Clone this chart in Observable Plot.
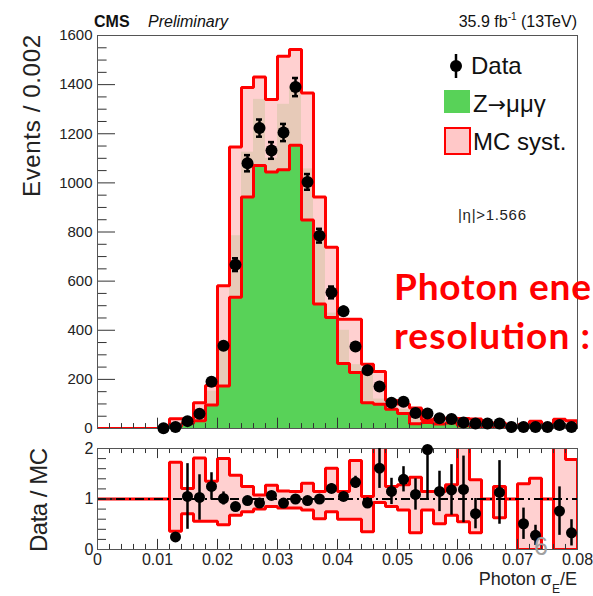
<!DOCTYPE html>
<html><head><meta charset="utf-8">
<script src="https://cdn.jsdelivr.net/npm/d3@7"></script>
<script src="https://cdn.jsdelivr.net/npm/@observablehq/plot@0.6"></script>
<style>
html,body{margin:0;padding:0;background:#fff;}
#wrap{position:relative;width:593px;height:596px;overflow:hidden;font-family:"Liberation Sans",Arial,sans-serif;}
#wrap svg{position:absolute;left:0;}
</style></head><body><div id="wrap"></div>
<script>
// ---- data ----
const binEdges = [0,0.002,0.004,0.006,0.008,0.01,0.012,0.014,0.016,0.018,0.02,0.022,0.024,0.026,0.028,0.03,0.032,0.034,0.036,0.038,0.04,0.042,0.044,0.046,0.048,0.05,0.052,0.054,0.056,0.058,0.06,0.062,0.064,0.066,0.068,0.07,0.072,0.074,0.076,0.078,0.08];
const dataCounts = [0,0,0,0,0,1,6,30,60,190,337,667,1080,1223,1132,1205,1390,1004,785,554,477,334,237,171,105,109,63,61,42,39,24,20,20,20,6,6,6,6,14,6];
const dataErr = [0,0,0,0,0,1,2.5,5.5,8,14,18,26,33,35,34,35,37,32,28,24,22,18,15,13,10,10,8,8,6.5,6,5,4.5,4.5,4.5,2.5,2.5,2.5,2.5,4,2.5];
const mcNominal = [0,0,0,0,0,0,23,30,58,152,333,785,1125,1340,1100,1320,1390,1057,785,470,400,260,230,120,92,78,58,31,36,33,20,28,0,18,0,12,21,0,18,18];
const mcDown = [0,0,0,0,0,0,8,20,32,96,173,534,942,1071,1044,1053,1153,849,507,452,265,228,105,99,78,61,19,24,18,22,11,9,0,11,0,0,0,0,0,0];
const mcUp = [0,0,0,0,0,0,40,40,105,175,581,1146,1388,1431,1339,1516,1543,1366,942,738,445,445,262,232,114,100,83,36,41,42,41,39,0,22,0,15,30,0,38,32];
const ratioValues = [null,null,null,null,null,null,0.25,1.05,1.03,1.25,1.01,0.85,0.97,0.92,1.07,0.92,1.0,0.97,1.0,1.21,1.05,1.33,0.92,1.61,1.15,1.39,1.09,1.98,1.15,1.18,1.19,0.71,null,1.13,null,0.51,0.28,null,0.76,0.33];
const ratioErr = [0,0,0,0,0,0,0.08,0.65,0.45,0.27,0.13,0.05,0.04,0.04,0.04,0.04,0.04,0.04,0.05,0.09,0.07,0.12,0.1,0.4,0.26,0.25,0.31,1.0,0.4,0.5,0.66,0.3,0,0.63,0,0.31,0.2,0,0.48,0.26];
const ratioDown = [1,1,1,1,1,1,0.36,0.71,0.56,0.56,0.49,0.68,0.75,0.8,0.85,0.82,0.82,0.78,0.61,0.75,0.6,0.6,0.35,0.93,0.85,0.78,0.33,0.78,0.51,0.68,0.55,0.33,1,0.63,1,0,0,1,0,0];
const ratioUp = [1,1,1,1,1,1,1.73,1.21,1.81,1.35,1.8,1.47,1.25,1.08,1.27,1.16,1.15,1.31,1.15,1.61,1.15,1.76,1.05,2.1,1.25,1.28,1.43,1.15,1.15,1.28,2.03,1.38,1,1.25,1,1.3,1.41,1,2.1,1.78];
const mainYTicks = [0,200,400,600,800,1000,1200,1400,1600];
const mainYLabels = ["0","200","400","600","800","1000","1200","1400","1600"];
const ratioYTicks = [0,1,2];
const ratioYLabels = ["0","1","2"];
const xTickValues = [0,0.01,0.02,0.03,0.04,0.05,0.06,0.07,0.08];
const xTickLabels = ["0","0.01","0.02","0.03","0.04","0.05","0.06","0.07","0.08"];

// ---- styling ----
const W = 593;
const RED = "#ff0000", GREEN = "#58d258", PINK = "#ffc8c8", AX = "#333";
const font = {fontFamily: "'Liberation Sans', Arial, sans-serif", background: "transparent", color: "#222", overflow: "visible"};

const bins = dataCounts.map((v, i) => ({
  x1: binEdges[i], x2: binEdges[i + 1], xc: (binEdges[i] + binEdges[i + 1]) / 2,
  data: v, err: dataErr[i], nom: mcNominal[i], lo: mcDown[i], hi: mcUp[i],
  r: ratioValues[i], rErr: ratioErr[i], rLo: ratioDown[i], rHi: ratioUp[i]
}));

function outline(loKey, hiKey) {
  const pts = [];
  bins.forEach(b => { pts.push({x: b.x1, y: b[hiKey]}, {x: b.x2, y: b[hiKey]}); });
  bins.slice().reverse().forEach(b => { pts.push({x: b.x2, y: b[loKey]}, {x: b.x1, y: b[loKey]}); });
  pts.push(pts[0]);
  return pts;
}

const majorSet = new Set(xTickValues.map(v => v.toFixed(3)));
const xMinor = binEdges.filter(v => !majorSet.has(v.toFixed(3)));
const yMinorMain = d3.range(0, 1601, 50).filter(v => v % 200 !== 0);
const yMinorRatio = d3.range(0.2, 2, 0.2).filter(v => Math.abs(v - 1) > 1e-6);

// ---- main panel ----
const mainSvg = Plot.plot({
  width: W, height: 440,
  marginLeft: 97, marginRight: 16, marginTop: 35, marginBottom: 12,
  x: {domain: [0, 0.08], axis: null},
  y: {domain: [0, 1600]},
  style: font,
  marks: [
    Plot.rect(bins, {x1: "x1", x2: "x2", y1: 0, y2: "nom", fill: GREEN}),
    Plot.rect(bins.filter(b => b.hi > b.lo), {x1: "x1", x2: "x2", y1: "lo", y2: "hi", fill: PINK, fillOpacity: 0.86}),
    Plot.line(outline("lo", "hi"), {x: "x", y: "y", stroke: RED, strokeWidth: 3, strokeLinejoin: "miter", clip: true}),
    Plot.ruleY(yMinorMain, {y: d => d, x1: 0, x2: 0.0016, stroke: AX, strokeWidth: 1}),
    Plot.ruleY(mainYTicks, {y: d => d, x1: 0, x2: 0.003, stroke: AX, strokeWidth: 1}),
    Plot.ruleX(xMinor, {x: d => d, y1: 0, y2: 20, stroke: AX, strokeWidth: 1}),
    Plot.ruleX(xTickValues, {x: d => d, y1: 0, y2: 42, stroke: AX, strokeWidth: 1}),
    Plot.frame({stroke: "#555", strokeWidth: 1}),
    Plot.axisY({ticks: mainYTicks, tickFormat: d => mainYLabels[mainYTicks.indexOf(d)], tickSize: 0, tickPadding: 5, fontSize: 15, label: null}),
    Plot.ruleX(bins.filter(b => b.data > 0), {x: "xc", y1: b => b.data - b.err, y2: b => b.data + b.err, stroke: "black", strokeWidth: 2.5}),
    Plot.ruleY(bins.filter(b => b.err >= 24), {y: b => b.data + b.err, x1: b => b.xc - 0.0005, x2: b => b.xc + 0.0005, stroke: "black", strokeWidth: 2.5}),
    Plot.ruleY(bins.filter(b => b.err >= 24), {y: b => b.data - b.err, x1: b => b.xc - 0.0005, x2: b => b.xc + 0.0005, stroke: "black", strokeWidth: 2.5}),
    Plot.dot(bins.filter(b => b.data > 0), {x: "xc", y: "data", r: 6, fill: "black", stroke: "none"})
  ]
});
mainSvg.style.top = "0px";

// ---- ratio panel ----
const rBins = bins.filter(b => b.r != null);
const ratioSvg = Plot.plot({
  width: W, height: 156,
  marginLeft: 97, marginRight: 16, marginTop: 8, marginBottom: 47,
  x: {domain: [0, 0.08]},
  y: {domain: [0, 2]},
  style: font,
  marks: [
    Plot.rect(bins.filter(b => b.rHi > b.rLo), {x1: "x1", x2: "x2", y1: "rLo", y2: b => Math.min(b.rHi, 2), fill: PINK, fillOpacity: 0.86}),
    Plot.line(outline("rLo", "rHi"), {x: "x", y: "y", stroke: RED, strokeWidth: 3, strokeLinejoin: "miter", clip: true}),
    Plot.ruleY([1], {stroke: "black", strokeWidth: 2, strokeDasharray: "9,4,2,4"}),
    Plot.ruleY(yMinorRatio, {y: d => d, x1: 0, x2: 0.0015, stroke: AX, strokeWidth: 1}),
    Plot.ruleY(ratioYTicks, {y: d => d, x1: 0, x2: 0.003, stroke: AX, strokeWidth: 1}),
    Plot.ruleX(xMinor, {x: d => d, y1: 0, y2: 0.1, stroke: AX, strokeWidth: 1}),
    Plot.ruleX(xTickValues, {x: d => d, y1: 0, y2: 0.2, stroke: AX, strokeWidth: 1}),
    Plot.ruleX(xMinor, {x: d => d, y1: 2, y2: 1.9, stroke: AX, strokeWidth: 1}),
    Plot.ruleX(xTickValues, {x: d => d, y1: 2, y2: 1.8, stroke: AX, strokeWidth: 1}),
    Plot.frame({stroke: "#555", strokeWidth: 1}),
    Plot.axisY({ticks: ratioYTicks, tickFormat: d => ratioYLabels[ratioYTicks.indexOf(d)], tickSize: 0, tickPadding: 4, fontSize: 16, label: null}),
    Plot.axisX({ticks: xTickValues, tickFormat: d => xTickLabels[xTickValues.indexOf(d)], tickSize: 0, tickPadding: 4, fontSize: 16, label: null}),
    Plot.ruleX(rBins, {x: "xc", y1: b => Math.max(0, b.r - b.rErr), y2: b => Math.min(2, b.r + b.rErr), stroke: "black", strokeWidth: 2.5}),
    Plot.dot(rBins, {x: "xc", y: "r", r: 5.5, fill: "black", stroke: "none"})
  ]
});
ratioSvg.style.top = "440px";

const wrap = document.getElementById("wrap");
wrap.appendChild(mainSvg);
wrap.appendChild(ratioSvg);

// ---- texts, legend, annotations ----
const ov = document.createElementNS("http://www.w3.org/2000/svg", "svg");
ov.setAttribute("width", W); ov.setAttribute("height", 596);
ov.style.top = "0px";
ov.setAttribute("font-family", "'Liberation Sans', Arial, sans-serif");
ov.innerHTML = `
<text x="94" y="27" font-size="16" font-weight="bold" fill="#111">CMS</text>
<text x="148" y="27" font-size="16" font-style="italic" fill="#111">Preliminary</text>
<text x="577" y="27" font-size="16" text-anchor="end" fill="#111">35.9 fb<tspan font-size="10" dy="-7">-1</tspan><tspan dy="7"> (13TeV)</tspan></text>
<text transform="translate(40,35) rotate(-90)" font-size="24" text-anchor="end" fill="#222" textLength="162">Events / 0.002</text>
<text transform="translate(47,500) rotate(-90)" font-size="24" text-anchor="middle" fill="#222" textLength="104">Data / MC</text>
<text x="577" y="585" font-size="18" text-anchor="end" fill="#222">Photon σ<tspan font-size="12" dy="8">E</tspan><tspan dy="-8">/E</tspan></text>
<line x1="456" y1="54" x2="456" y2="78" stroke="black" stroke-width="2.5"/>
<circle cx="456" cy="66" r="6" fill="black"/>
<text x="471" y="74" font-size="24" fill="#111">Data</text>
<rect x="444" y="90" width="26" height="23" fill="${GREEN}"/>
<text x="473" y="112" font-size="24" fill="#111">Z<tspan font-family="'DejaVu Sans', sans-serif" font-size="22">→</tspan>μμγ</text>
<rect x="445" y="128" width="25" height="26" fill="${PINK}" stroke="${RED}" stroke-width="2"/>
<text x="473" y="150" font-size="24" fill="#111">MC syst.</text>
<text x="458" y="220" font-size="15" fill="#222" textLength="68">|η|&gt;1.566</text>
<text x="394" y="300" font-size="37" font-weight="bold" fill="${RED}" font-family="Lato, 'Liberation Sans', sans-serif" textLength="197">Photon ene</text>
<text x="394" y="349" font-size="37" font-weight="bold" fill="${RED}" font-family="Lato, 'Liberation Sans', sans-serif" textLength="196">resolution :</text>
<text x="534" y="555" font-size="25" fill="#a0a0a0">6</text>
`;
wrap.appendChild(ov);
</script>
</body></html>
